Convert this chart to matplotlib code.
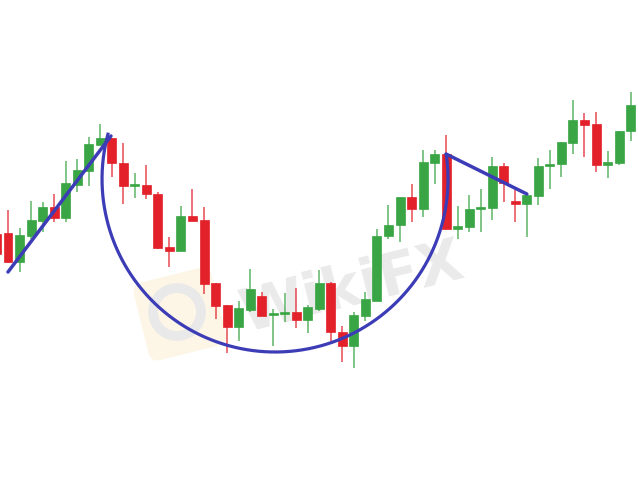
import numpy as np
import matplotlib
matplotlib.use("Agg")
import matplotlib.pyplot as plt
from matplotlib.patches import Rectangle, FancyBboxPatch, Circle
import matplotlib.transforms as mtransforms

# candle OHLC values (index -1 and 55 are cut by the frame)
idx = np.arange(-1, 56)
opens = [250, 251, 222, 248, 263, 277, 266, 299, 313, 339, 346, 321, 298, 299, 290,
         237, 233, 268, 264, 201, 179, 157, 174, 188, 169, 170, 172, 164, 175, 201,
         152, 138, 168, 183, 248, 259, 287, 275, 321, 330, 255, 257, 275, 276, 318,
         283, 280, 288, 318, 320, 341, 364, 360, 319, 321, 353, 385]
highs = [255, 274, 256, 283, 282, 290, 323, 325, 347, 360, 346, 341, 311, 319, 292,
         247, 278, 295, 277, 201, 179, 183, 215, 192, 175, 191, 196, 179, 214, 202,
         158, 172, 192, 255, 279, 287, 300, 334, 334, 349, 278, 289, 295, 327, 321,
         294, 289, 326, 334, 342, 384, 371, 372, 333, 353, 392, 392]
lows = [225, 221, 212, 245, 252, 262, 262, 292, 298, 339, 307, 280, 286, 285, 235,
        217, 233, 263, 190, 165, 131, 143, 172, 168, 138, 162, 156, 151, 173, 143,
        122, 116, 163, 183, 245, 242, 262, 267, 300, 255, 245, 252, 252, 264, 282,
        262, 247, 279, 295, 307, 330, 327, 312, 306, 319, 343, 345]
closes = [230, 222, 249, 264, 277, 266, 301, 314, 340, 346, 321, 298, 300, 290, 236,
          233, 268, 263, 200, 178, 157, 176, 195, 168, 171, 172, 164, 177, 201, 152,
          138, 169, 185, 248, 259, 287, 275, 322, 330, 255, 258, 275, 276, 318, 301,
          280, 289, 318, 320, 342, 364, 359, 319, 322, 353, 379, 355]

# hand-drawn pattern overlay: (candle index, price)
left_line_x = [0, 8.93]
left_line_y = [212, 348]
right_line_x = [37.99, 45.0]
right_line_y = [330, 290]
cup_center = (23.16, 305)
cup_radius = 173  # price units
px_per_candle = 11.53

RED = "#e2212b"
GREEN = "#3aa544"
BLUE = "#3c3cb6"

fig = plt.figure(figsize=(6.38, 4.85), dpi=100)
ax = fig.add_axes([0, 0, 1, 1])
ax.set_xlim(-8 / px_per_candle, 630 / px_per_candle)
ax.set_ylim(0, 485)
ax.axis("off")

# faint watermark behind the candles
rot = mtransforms.Affine2D().rotate_deg_around(180, 170, 14)
ax.add_patch(FancyBboxPatch((142, 132), 76, 76, boxstyle="round,pad=2,rounding_size=10",
                            facecolor="#fdf6e6", edgecolor="none", zorder=0,
                            transform=rot))
ax.add_patch(Circle((177, 172), 24, facecolor="none", edgecolor="#e9e9e9", lw=7,
                    zorder=0.5, transform=mtransforms.IdentityTransform()))
ax.text(0.552, 0.405, "WikiFX", transform=ax.transAxes, fontsize=42, fontweight="bold",
        color="#e2e2e2", alpha=0.7, rotation=14, ha="center", va="center", zorder=0.5)

width = 0.78
for i, o, h, l, c in zip(idx, opens, highs, lows, closes):
    col = GREEN if c >= o else RED
    ax.vlines(i, l, h, color=col, lw=1.2, alpha=0.75, zorder=2)
    lo, hi = min(o, c), max(o, c)
    ax.add_patch(Rectangle((i - width / 2, lo), width, max(hi - lo, 2),
                           facecolor=col, edgecolor=col, lw=0.5, zorder=3))

ax.plot(left_line_x, left_line_y, color=BLUE, lw=2.5, zorder=5, solid_capstyle="round")
ax.plot(right_line_x, right_line_y, color=BLUE, lw=2.5, zorder=5, solid_capstyle="round")
t = np.deg2rad(np.linspace(165, 368, 300))
ax.plot(cup_center[0] + cup_radius / px_per_candle * np.cos(t),
        cup_center[1] + cup_radius * np.sin(t), color=BLUE, lw=2.3, zorder=5)

fig.savefig("out.png", dpi=100)
